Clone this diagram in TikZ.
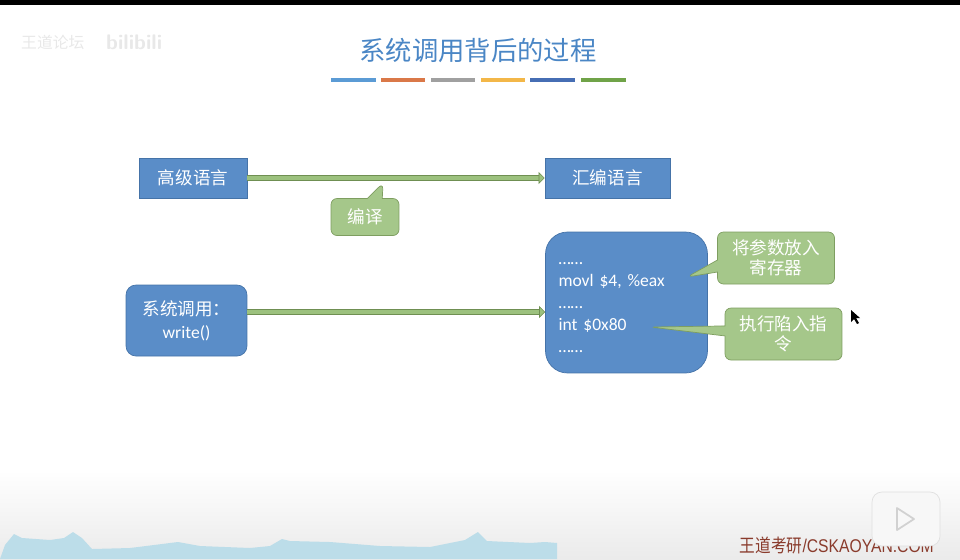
\documentclass[tikz,border=0pt]{standalone}
\usepackage{fontspec}
\setmainfont{Carlito}
\newfontfamily\cjk{Noto Sans CJK SC}
\newfontfamily\footfont{Liberation Sans}[FakeStretch=0.85]
\newfontfamily\footcjk{Noto Sans CJK SC}[FakeStretch=0.85]
\usetikzlibrary{arrows.meta, shapes.callouts, calc}
\usetikzlibrary{positioning}
\definecolor{titleblue}{HTML}{4A86C5}
\definecolor{boxblue}{HTML}{5A8DC8}
\definecolor{boxedge}{HTML}{4573A8}
\definecolor{notegreen}{HTML}{A5C78A}
\definecolor{noteedge}{HTML}{7E9E60}
\definecolor{arrowgreen}{HTML}{9CC17E}
\definecolor{arrowedge}{HTML}{6F8F52}
\definecolor{footred}{HTML}{8A3B2C}
\definecolor{hillblue}{HTML}{BCDDE9}
\definecolor{barone}{HTML}{5B9BD5}
\definecolor{bartwo}{HTML}{DA7848}
\definecolor{barthree}{HTML}{A0A0A0}
\definecolor{barfour}{HTML}{F3B748}
\definecolor{barfive}{HTML}{466EB4}
\definecolor{barsix}{HTML}{70A348}

\begin{document}
\begin{tikzpicture}[x=0.02cm, y=-0.02cm,
    blockbox/.style={draw=boxedge, fill=boxblue, text=white, font=\cjk\fontsize{10}{12}\selectfont, inner sep=0pt},
    note/.style={rectangle callout, rounded corners=0.12cm, draw=noteedge, fill=notegreen, text=white, font=\cjk\fontsize{10}{11.3}\selectfont, align=center, inner sep=0pt},
    flow/.style={draw=arrowedge, double=arrowgreen, double distance=0.085cm, line width=0.35pt, -{Triangle[length=0.12cm, width=0.24cm, fill=arrowgreen]}},
    bar/.style={line width=0.08cm}]
    \useasboundingbox (0,0) rectangle (960,559);
    \fill[black] (0,0) rectangle (960,5);
    \shade[top color=white, bottom color=black!8] (0,470) rectangle (960,559);
    \fill[hillblue] (0,559) -- (5,545) -- (14,534) -- (22,538) -- (50,540) -- (64,538) -- (73,532) -- (82,538) -- (92,549) -- (130,548) -- (178,542) -- (200,546) -- (250,548) -- (270,546) -- (282,539) -- (290,541) -- (330,542) -- (380,546) -- (430,547) -- (465,540) -- (478,532) -- (487,541) -- (530,543) -- (545,542) -- (557,543) -- (557,559) -- cycle;
    % title
    \node[text=titleblue, font=\cjk\fontsize{15}{18}\selectfont] (title) at (478,50) {系统调用背后的过程};
    \draw[bar, barone] (331,80) -- (376,80);
    \draw[bar, bartwo] (381,80) -- (425,80);
    \draw[bar, barthree] (431,80) -- (475,80);
    \draw[bar, barfour] (481,80) -- (525,80);
    \draw[bar, barfive] (530,80) -- (575,80);
    \draw[bar, barsix] (581,80) -- (626,80);
    \node[text=black!9, font=\cjk\fontsize{9}{10}\selectfont, anchor=west] (forum) at (15,42) {王道论坛};
    \node[text=black!9, font=\sffamily\bfseries\fontsize{12}{12}\selectfont, anchor=west] (bili) at (100,42) {bilibili};
    % blocks
    \node[blockbox, minimum width=2.16cm, minimum height=0.8cm] (high) at (193,178) {高级语言};
    \node[blockbox, minimum width=2.5cm, minimum height=0.8cm] (asmlang) at (607.5,178) {汇编语言};
    \node[blockbox, rounded corners=0.2cm, minimum width=2.42cm, minimum height=1.42cm, align=center, font=\fontsize{10}{13}\selectfont] (syscall) at (186.5,320.5) {{\cjk 系统调用：}\\write()};
    \node[blockbox, rounded corners=0.44cm, minimum width=3.24cm, minimum height=2.82cm] (code) at (626.5,302.5) {};
    \node[text=white, text width=2.72cm, align=left, font=\fontsize{10}{12.6}\selectfont, inner sep=0pt] (codetext) at ([yshift=-0.1cm]code.center) {……\\movl \$4, \%eax\\……\\int \$0x80\\……};
    \draw[flow] (high.east) -- (asmlang.west);
    \draw[flow] ([yshift=0.17cm]syscall.east) -- ([yshift=0.17cm]syscall.east -| code.west);
    % callouts
    \node[note, minimum width=1.36cm, minimum height=0.74cm, callout absolute pointer={(383,183)}, callout pointer width=0.3cm] (compile) at (365,217) {编译};
    \node[note, minimum width=2.34cm, minimum height=1.04cm, callout absolute pointer={(687,277)}, callout pointer width=0.24cm] (regs) at (776,258) {将参数放入\\寄存器};
    \node[note, minimum width=2.34cm, minimum height=1.04cm, callout absolute pointer={(650,327)}, callout pointer width=0.2cm] (trap) at (783.5,334) {执行陷入指\\令};
    \fill[black] (851,310) -- (851,322) -- (854,319) -- (857,324) -- (859,323) -- (856,318) -- (860,318) -- cycle;
    % footer
    \node[anchor=east, text=footred, font=\fontsize{10.5}{12}\selectfont] (site) at (940,545) {\footcjk 王道考研\footfont/CSKAOYAN.COM};
    \draw[black!12, fill=black!3, rounded corners=0.2cm] (872,492) rectangle (940,546);
    \draw[black!18, line width=1pt, line join=round] (897,508) -- (897,530) -- (914,519) -- cycle;
\end{tikzpicture}
\end{document}
